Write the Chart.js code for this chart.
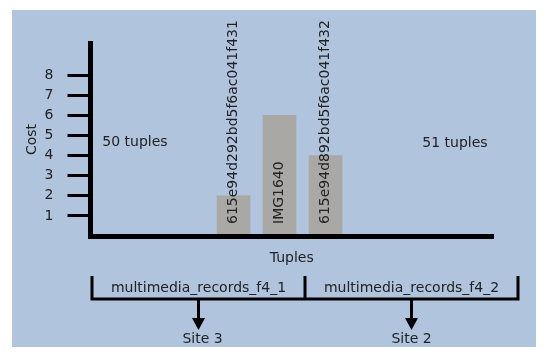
<!DOCTYPE html>
<html>
<head>
<meta charset="utf-8">
<script src="https://cdn.jsdelivr.net/npm/chart.js@4.4.0/dist/chart.umd.min.js"></script>
<style>
    html, body { margin: 0; padding: 0; background: #fff; }
</style>
</head>
<body>
<canvas id="costChart" width="550" height="355"></canvas>
<script>
// chart data
const categories = ['615e94d292bd5f6ac041f431', 'IMG1640', '615e94d892bd5f6ac041f432'];
const costs = [2, 6, 4];
const yTicks = [1, 2, 3, 4, 5, 6, 7, 8];
const tupleCounts = ['50 tuples', '51 tuples'];
const fragments = ['multimedia_records_f4_1', 'multimedia_records_f4_2'];
const sites = ['Site 3', 'Site 2'];

const FONT = '14px "DejaVu Sans"';
const TEXT = '#222';

// panel background, bar labels and the fragment bracket underneath
const decorations = {
    id: 'decorations',
    beforeDraw(chart) {
        const ctx = chart.ctx;
        ctx.save();
        ctx.fillStyle = '#fff';
        ctx.fillRect(0, 0, chart.width, chart.height);
        ctx.fillStyle = '#b0c4de';
        ctx.fillRect(12, 10, 524, 337);
        ctx.restore();
    },
    afterDraw(chart) {
        const { ctx, chartArea } = chart;
        ctx.save();
        ctx.font = FONT;

        // close the corner where the two axes meet
        ctx.fillStyle = '#000';
        ctx.fillRect(chartArea.left - 2.5, chartArea.bottom, 5, 3);
        ctx.fillStyle = TEXT;

        // vertical labels on the bars
        const meta = chart.getDatasetMeta(0);
        meta.data.forEach((bar, i) => {
            ctx.save();
            ctx.translate(bar.x, chartArea.bottom - 12);
            ctx.rotate(-Math.PI / 2);
            ctx.textAlign = 'left';
            ctx.textBaseline = 'middle';
            ctx.fillText(categories[i], 0, 0);
            ctx.restore();
        });

        ctx.textAlign = 'center';
        ctx.textBaseline = 'middle';
        ctx.fillText(tupleCounts[0], 135, 142);
        ctx.fillText(tupleCounts[1], 455, 143);

        // bracket
        const left = 92, mid = 305, right = 518, top = 276, base = 299;
        ctx.strokeStyle = '#000';
        ctx.lineWidth = 3;
        ctx.beginPath();
        ctx.moveTo(left, top); ctx.lineTo(left, base);
        ctx.moveTo(mid, top); ctx.lineTo(mid, base);
        ctx.moveTo(right, top); ctx.lineTo(right, base);
        ctx.moveTo(left - 1.5, base); ctx.lineTo(right + 1.5, base);
        ctx.stroke();

        const centers = [(left + mid) / 2, (mid + right) / 2];
        centers.forEach((cx, i) => {
            ctx.fillStyle = TEXT;
            ctx.fillText(fragments[i], cx, 288);
            ctx.strokeStyle = '#000';
            ctx.beginPath();
            ctx.moveTo(cx, base);
            ctx.lineTo(cx, 319);
            ctx.stroke();
            ctx.fillStyle = '#000';
            ctx.beginPath();
            ctx.moveTo(cx - 6.5, 318);
            ctx.lineTo(cx + 6.5, 318);
            ctx.lineTo(cx, 330);
            ctx.closePath();
            ctx.fill();
            ctx.fillStyle = TEXT;
            ctx.fillText(sites[i], cx + (i === 0 ? 4 : 0), 339);
        });
        ctx.restore();
    }
};

const ctx = document.getElementById('costChart').getContext('2d');

new Chart(ctx, {
    type: 'bar',
    data: {
        datasets: [
            {
                data: costs.map((c, i) => ({ x: i + 1, y: c })),
                backgroundColor: '#aaa8a4',
                borderWidth: 0,
                barThickness: 33,
            },
        ],
    },
    options: {
        responsive: false,
        animation: false,
        layout: {
            padding: { left: 12, top: 43, right: 57, bottom: 84 },
        },
        plugins: {
            legend: { display: false },
            tooltip: { enabled: false },
        },
        scales: {
            x: {
                type: 'linear',
                offset: false,
                min: -2.11,
                max: 6.64,
                afterFit: (scale) => { scale.height = 35; },
                grid: { display: false, offset: false },
                border: { display: true, color: '#000', width: 5, z: 1 },
                ticks: { display: false },
                title: {
                    display: true,
                    text: 'Tuples',
                    color: TEXT,
                    font: { family: 'DejaVu Sans', size: 14 },
                    padding: { top: 4, bottom: 4 },
                },
            },
            y: {
                min: 0,
                max: 9.6,
                afterFit: (scale) => { scale.width = 78.5; },
                afterBuildTicks: (scale) => { scale.ticks = yTicks.map((v) => ({ value: v })); },
                grid: {
                    drawOnChartArea: false,
                    drawTicks: true,
                    tickLength: 23,
                    tickWidth: 3,
                    tickColor: '#000',
                },
                border: { display: true, color: '#000', width: 5, z: 1 },
                ticks: {
                    color: TEXT,
                    font: { family: 'DejaVu Sans', size: 14 },
                    padding: 14,
                },
                title: {
                    display: true,
                    text: 'Cost',
                    color: TEXT,
                    font: { family: 'DejaVu Sans', size: 14 },
                    padding: { top: 12, bottom: 4 },
                },
            },
        },
    },
    plugins: [decorations],
});
</script>
</body>
</html>
